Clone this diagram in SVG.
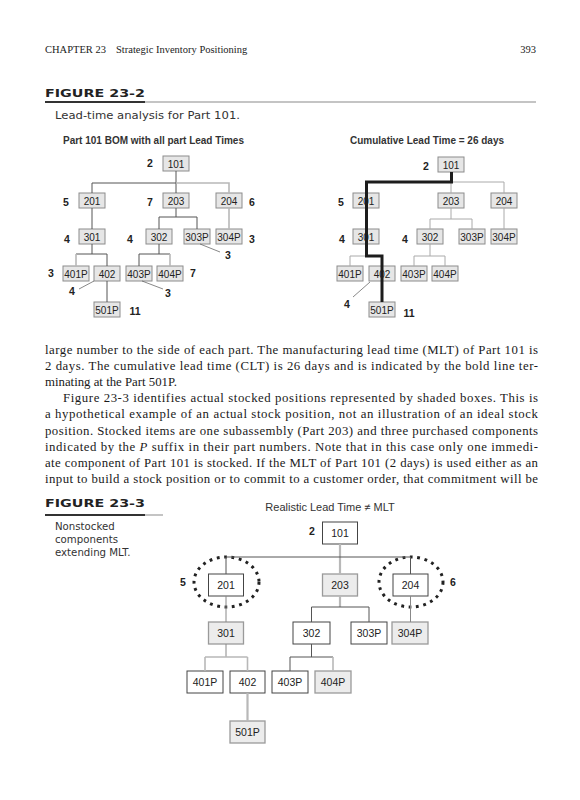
<svg xmlns="http://www.w3.org/2000/svg" width="580" height="800" viewBox="0 0 580 800">
<style>
.hdr{font-family:"Liberation Serif","Times New Roman",serif;font-size:10.5px;fill:#222}
.fig{font-family:"DejaVu Sans",Verdana,sans-serif;font-weight:bold;font-size:10px;fill:#222}
.cap{font-family:"DejaVu Sans",Verdana,sans-serif;font-size:10.2px;fill:#333}
.ttl{font-family:"Liberation Sans",Arial,sans-serif;font-weight:bold;font-size:10px;fill:#333}
.ttl3{font-family:"Liberation Sans",Arial,sans-serif;font-size:11px;fill:#333}
.body{font-family:"Liberation Serif","Times New Roman",serif;font-size:12.8px;fill:#1a1a1a}
.b1{fill:#e6e6e6;stroke:#8c8c8c;stroke-width:1}
.t1{font-family:"Liberation Sans",Arial,sans-serif;font-size:10px;fill:#222;text-anchor:middle}
.lb{font-family:"Liberation Sans",Arial,sans-serif;font-weight:bold;font-size:10.5px;fill:#222;text-anchor:middle}
.w3{fill:#fff;stroke:#444;stroke-width:1}
.s3{fill:#ececec;stroke:#9a9a9a;stroke-width:1.3}
.t3{font-family:"Liberation Sans",Arial,sans-serif;font-size:10.5px;fill:#222;text-anchor:middle}
.dk{stroke:#555;stroke-width:1;fill:none}
.md{stroke:#888;stroke-width:1;fill:none}
.gy{stroke:#b8b8b8;stroke-width:1.6;fill:none}
.lt{stroke:#aaa;stroke-width:1;fill:none}
.ld{stroke:#555;stroke-width:0.7;fill:none}
.bold{stroke:#1c1c1c;stroke-width:3;fill:none}
.dot{fill:none;stroke:#222;stroke-width:3;stroke-dasharray:2.8 4.6}
</style>

<!-- Page header -->
<text class="hdr" x="45" y="53">CHAPTER 23</text>
<text class="hdr" x="116" y="53">Strategic Inventory Positioning</text>
<text class="hdr" x="536" y="53" text-anchor="end">393</text>

<!-- Figure 23-2 caption -->
<text class="fig" x="45" y="97" textLength="100" lengthAdjust="spacingAndGlyphs">FIGURE 23-2</text>
<line x1="145" y1="102" x2="536" y2="102" stroke="#b0b0b0" stroke-width="1.5"/>
<line x1="45" y1="102" x2="145" y2="102" stroke="#333" stroke-width="2"/>
<text class="cap" x="55" y="119" textLength="185" lengthAdjust="spacingAndGlyphs">Lead-time analysis for Part 101.</text>

<text class="ttl" x="63" y="144">Part 101 BOM with all part Lead Times</text>
<text class="ttl" x="350" y="144">Cumulative Lead Time = 26 days</text>

<!-- Left tree nodes -->
<g id="L101"><rect class="b1" x="163" y="156" width="26" height="15"/><text class="t1" x="176" y="167.5">101</text></g>
<g id="L201"><rect class="b1" x="79" y="193" width="26" height="15"/><text class="t1" x="92" y="204.5">201</text></g>
<g id="L203"><rect class="b1" x="163" y="193" width="26" height="15"/><text class="t1" x="176" y="204.5">203</text></g>
<g id="L204"><rect class="b1" x="216" y="193" width="26" height="15"/><text class="t1" x="229" y="204.5">204</text></g>
<g id="L301"><rect class="b1" x="79" y="229" width="26" height="15"/><text class="t1" x="92" y="240.5">301</text></g>
<g id="L302"><rect class="b1" x="146" y="229" width="26" height="15"/><text class="t1" x="159" y="240.5">302</text></g>
<g id="L303P"><rect class="b1" x="184" y="229" width="26" height="15"/><text class="t1" x="197" y="240.5">303P</text></g>
<g id="L304P"><rect class="b1" x="216" y="229" width="26" height="15"/><text class="t1" x="229" y="240.5">304P</text></g>
<g id="L401P"><rect class="b1" x="63" y="266" width="26" height="15"/><text class="t1" x="76" y="277.5">401P</text></g>
<g id="L402"><rect class="b1" x="94" y="266" width="26" height="15"/><text class="t1" x="107" y="277.5">402</text></g>
<g id="L403P"><rect class="b1" x="126" y="266" width="26" height="15"/><text class="t1" x="139" y="277.5">403P</text></g>
<g id="L404P"><rect class="b1" x="157" y="266" width="26" height="15"/><text class="t1" x="170" y="277.5">404P</text></g>
<g id="L501P"><rect class="b1" x="94" y="302" width="26" height="15"/><text class="t1" x="107" y="313.5">501P</text></g>

<!-- Left tree lead-time labels -->
<g id="L-labels">
<text class="lb" x="150" y="167">2</text>
<text class="lb" x="66" y="205.5">5</text>
<text class="lb" x="150" y="205.5">7</text>
<text class="lb" x="252" y="205.5">6</text>
<text class="lb" x="67" y="243">4</text>
<text class="lb" x="130" y="243">4</text>
<text class="lb" x="252" y="243">3</text>
<text class="lb" x="228" y="259">3</text>
<text class="lb" x="51" y="277">3</text>
<text class="lb" x="193" y="277">7</text>
<text class="lb" x="72" y="295">4</text>
<text class="lb" x="168" y="297">3</text>
<text class="lb" x="135" y="314.5">11</text>
</g>

<!-- Right tree nodes -->
<g id="R101"><rect class="b1" x="438" y="157" width="26" height="15"/><text class="t1" x="451" y="168.5">101</text></g>
<g id="R201"><rect class="b1" x="353" y="193" width="26" height="15"/><text class="t1" x="366" y="204.5">201</text></g>
<g id="R203"><rect class="b1" x="438" y="193" width="26" height="15"/><text class="t1" x="451" y="204.5">203</text></g>
<g id="R204"><rect class="b1" x="491" y="193" width="26" height="15"/><text class="t1" x="504" y="204.5">204</text></g>
<g id="R301"><rect class="b1" x="353" y="229" width="26" height="15"/><text class="t1" x="366" y="240.5">301</text></g>
<g id="R302"><rect class="b1" x="417" y="229" width="26" height="15"/><text class="t1" x="430" y="240.5">302</text></g>
<g id="R303P"><rect class="b1" x="459" y="229" width="26" height="15"/><text class="t1" x="472" y="240.5">303P</text></g>
<g id="R304P"><rect class="b1" x="491" y="229" width="26" height="15"/><text class="t1" x="504" y="240.5">304P</text></g>
<g id="R401P"><rect class="b1" x="337" y="266" width="26" height="15"/><text class="t1" x="350" y="277.5">401P</text></g>
<g id="R402"><rect class="b1" x="369" y="266" width="26" height="15"/><text class="t1" x="382" y="277.5">402</text></g>
<g id="R403P"><rect class="b1" x="401" y="266" width="26" height="15"/><text class="t1" x="414" y="277.5">403P</text></g>
<g id="R404P"><rect class="b1" x="432" y="266" width="26" height="15"/><text class="t1" x="445" y="277.5">404P</text></g>
<g id="R501P"><rect class="b1" x="369" y="302" width="26" height="15"/><text class="t1" x="382" y="313.5">501P</text></g>

<g id="R-labels">
<text class="lb" x="426" y="170">2</text>
<text class="lb" x="341" y="206">5</text>
<text class="lb" x="342" y="243">4</text>
<text class="lb" x="405" y="243">4</text>
<text class="lb" x="347" y="308">4</text>
<text class="lb" x="409" y="317">11</text>
</g>

<!-- Body text -->
<text class="body" x="45" y="354" textLength="493" lengthAdjust="spacing">large number to the side of each part. The manufacturing lead time (MLT) of Part 101 is</text>
<text class="body" x="45" y="370.1" textLength="493" lengthAdjust="spacing">2 days. The cumulative lead time (CLT) is 26 days and is indicated by the bold line ter-</text>
<text class="body" x="45" y="386.2">minating at the Part 501P.</text>
<text class="body" x="63" y="402.3" textLength="475" lengthAdjust="spacing">Figure 23-3 identifies actual stocked positions represented by shaded boxes. This is</text>
<text class="body" x="45" y="418.4" textLength="493" lengthAdjust="spacing">a hypothetical example of an actual stock position, not an illustration of an ideal stock</text>
<text class="body" x="45" y="434.5" textLength="493" lengthAdjust="spacing">position. Stocked items are one subassembly (Part 203) and three purchased components</text>
<text class="body" x="45" y="450.6" textLength="493" lengthAdjust="spacing">indicated by the <tspan font-style="italic">P</tspan> suffix in their part numbers. Note that in this case only one immedi-</text>
<text class="body" x="45" y="466.7" textLength="493" lengthAdjust="spacing">ate component of Part 101 is stocked. If the MLT of Part 101 (2 days) is used either as an</text>
<text class="body" x="45" y="482.8" textLength="493" lengthAdjust="spacing">input to build a stock position or to commit to a customer order, that commitment will be</text>

<!-- Figure 23-3 caption -->
<text class="fig" x="45" y="507" textLength="100" lengthAdjust="spacingAndGlyphs">FIGURE 23-3</text>
<line x1="145" y1="515" x2="163" y2="515" stroke="#b0b0b0" stroke-width="1.5"/>
<line x1="45" y1="515" x2="145" y2="515" stroke="#333" stroke-width="2"/>
<text class="cap" x="55" y="530">Nonstocked</text>
<text class="cap" x="55" y="543">components</text>
<text class="cap" x="55" y="556">extending MLT.</text>

<text class="ttl3" x="330" y="511" text-anchor="middle">Realistic Lead Time ≠ MLT</text>

<!-- Figure 23-3 nodes -->
<g id="F101"><rect class="w3" x="322.5" y="522" width="35" height="22"/><text class="t3" x="340" y="537">101</text></g>
<g id="F201"><rect class="w3" x="208.5" y="574" width="35" height="22"/><text class="t3" x="226" y="589">201</text></g>
<g id="F203"><rect class="s3" x="322.5" y="574" width="35" height="22"/><text class="t3" x="340" y="589">203</text></g>
<g id="F204"><rect class="w3" x="393" y="574" width="35" height="22"/><text class="t3" x="410.5" y="589">204</text></g>
<g id="F301"><rect class="s3" x="208.5" y="622" width="35" height="22"/><text class="t3" x="226" y="637">301</text></g>
<g id="F302"><rect class="w3" x="293" y="622" width="37" height="22"/><text class="t3" x="311.5" y="637">302</text></g>
<g id="F303P"><rect class="w3" x="351" y="622" width="36" height="22"/><text class="t3" x="369" y="637">303P</text></g>
<g id="F304P"><rect class="s3" x="392" y="622" width="36" height="22"/><text class="t3" x="410" y="637">304P</text></g>
<g id="F401P"><rect class="w3" x="187" y="671" width="36" height="22"/><text class="t3" x="205" y="686">401P</text></g>
<g id="F402"><rect class="w3" x="230" y="671" width="35" height="22"/><text class="t3" x="247.5" y="686">402</text></g>
<g id="F403P"><rect class="w3" x="272" y="671" width="36" height="22"/><text class="t3" x="290" y="686">403P</text></g>
<g id="F404P"><rect class="s3" x="315" y="671" width="36" height="22"/><text class="t3" x="333" y="686">404P</text></g>
<g id="F501P"><rect class="s3" x="230" y="721" width="35" height="22"/><text class="t3" x="247.5" y="736">501P</text></g>

<g id="F-labels">
<text class="lb" x="312" y="535">2</text>
<text class="lb" x="183" y="586">5</text>
<text class="lb" x="453" y="586">6</text>
</g>

<ellipse class="dot" cx="226.5" cy="582" rx="32.5" ry="25"/>
<ellipse class="dot" cx="411" cy="582" rx="32" ry="25"/>

<!-- Connectors -->
<g id="connectors">
  <!-- left tree -->
  <path class="dk" d="M176,171V183M92,183H176M92,183V193M176,183V193"/>
  <path class="gy" d="M176,183H229V193"/>
  <path class="dk" d="M92,208V229"/>
  <path class="dk" d="M176,208V217M159,217H197M159,217V229M197,217V229"/>
  <path class="gy" d="M229,208V229"/>
  <path class="dk" d="M92,244V254M76,254H107M107,254V266"/>
  <path class="gy" d="M76,254V266"/>
  <path class="dk" d="M159,244V254M139,254H170M139,254V266"/>
  <path class="gy" d="M170,254V266"/>
  <path class="dk" d="M107,281V302"/>
  <path class="ld" d="M200,244L220,252M142,281L163,289M94,281L79,289"/>
  <!-- right tree -->
  <path class="lt" d="M366,182H504M366,182V193M451,182V193M504,182V193"/>
  <path class="lt" d="M366,208V229M451,208V219M430,219H472M430,219V229M472,219V229M504,208V229"/>
  <path class="lt" d="M366,244V256M350,256H382M350,256V266M382,256V266"/>
  <path class="lt" d="M430,244V256M414,256H445M414,256V266M445,256V266"/>
  <path class="lt" d="M382,281V302"/>
  <path class="ld" d="M370,282L353,297"/>
  <path class="bold" d="M451.5,172V182H366.5V256H382V302"/>
  <!-- figure 23-3 -->
  <path class="gy" d="M340,544V574M340,596V607" style="stroke-width:2.2"/>
  <path class="dk" d="M226,557H410.5M226,557V574M410.5,557V574"/>
  <path class="md" d="M226,596V622M410.5,596V622M226,644V657"/>
  <path class="dk" d="M311.5,607H369M311.5,607V622M369,607V622"/>
  <path class="gy" d="M205,657H247.5M205,657V671M247.5,657V671"/>
  <path class="dk" d="M311.5,644V657M290,657H333M290,657V671"/>
  <path class="gy" d="M333,657V671"/>
  <path class="gy" d="M247.5,693V721" style="stroke-width:2.2"/>
</g>
</svg>
